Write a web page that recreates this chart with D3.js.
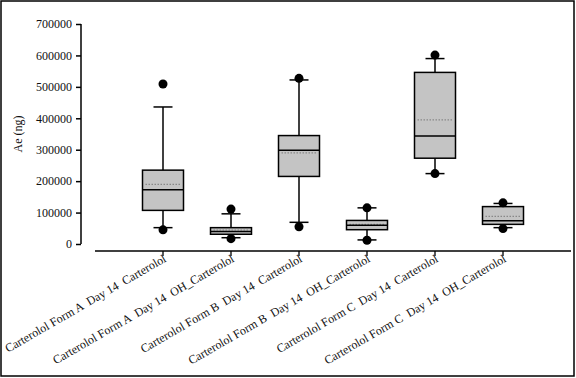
<!DOCTYPE html>
<html lang="en">

<head>
    <meta charset="UTF-8">
    <title>Box plot</title>
    <script src="https://d3js.org/d3.v7.min.js"></script>
    <style>
        body { margin: 0; background: #fff; }
        text { font-family: "Liberation Serif", "Times New Roman", serif; fill: #111; }
    </style>
</head>

<body>
    <div id="chart"></div>
    <script>
        // categories and box stats
        const categories = [
            "Carterolol Form A  Day 14  Carterolol",
            "Carterolol Form A  Day 14  OH_Carterolol",
            "Carterolol Form B  Day 14  Carterolol",
            "Carterolol Form B  Day 14  OH_Carterolol",
            "Carterolol Form C  Day 14  Carterolol",
            "Carterolol Form C  Day 14  OH_Carterolol"
        ];
        const whiskerLow = [52000, 20000, 69000, 13000, 224000, 52000];
        const q1 = [107000, 31000, 215000, 45500, 273000, 62500];
        const median = [173000, 40000, 298000, 59500, 344000, 74000];
        const mean = [190000, 44500, 290000, 62500, 395000, 88000];
        const q3 = [235000, 52000, 345000, 75000, 546000, 119000];
        const whiskerHigh = [436000, 96000, 522000, 115000, 590000, 129000];
        const outlierLow = [45000, 17000, 55000, 12000, 224000, 49000];
        const outlierHigh = [509000, 111000, 527000, 115000, 601000, 131000];
        const yTicks = [0, 100000, 200000, 300000, 400000, 500000, 600000, 700000];

        const W = 576, H = 378;
        const svg = d3.select("#chart").append("svg")
            .attr("width", W)
            .attr("height", H);

        // frame
        svg.append("rect")
            .attr("x", 1).attr("y", 1)
            .attr("width", W - 3).attr("height", H - 3)
            .attr("fill", "none").attr("stroke", "#000").attr("stroke-width", 1.5);

        const y = d3.scaleLinear().domain([0, 700000]).range([244, 24]);
        const x = d3.scaleLinear().domain([0, 7]).range([95, 571]);
        const boxW = 41, capW = 19;

        // y axis
        const yAxis = svg.append("g").attr("transform", "translate(81,0)");
        yAxis.call(d3.axisLeft(y).tickValues(d3.range(0, 700001, 20000)).tickSize(3).tickFormat(""))
            .call(g => g.selectAll("line").attr("stroke-width", 1.2));
        yAxis.call(d3.axisLeft(y).tickValues(yTicks).tickSize(5).tickPadding(4).tickFormat(d3.format("d")))
            .call(g => g.selectAll(".domain").attr("stroke-width", 1.5))
            .call(g => g.selectAll("line").attr("stroke-width", 1.5))
            .call(g => g.selectAll("text").attr("font-size", 12));
        yAxis.selectAll(".domain").attr("d", `M0,${y(0)}V${y(700000)}`);

        svg.append("text")
            .attr("transform", `translate(22,${(y(0) + y(700000)) / 2}) rotate(-90)`)
            .attr("text-anchor", "middle")
            .attr("font-size", 12)
            .text("Ae (ng)");

        // x axis
        const xg = svg.append("g").attr("transform", "translate(0,251)");
        xg.append("line")
            .attr("x1", x(0)).attr("x2", x(7))
            .attr("stroke", "#000").attr("stroke-width", 1.5);
        categories.forEach((c, i) => {
            const cx = x(i + 1);
            xg.append("line")
                .attr("x1", cx).attr("x2", cx).attr("y1", 0).attr("y2", 5)
                .attr("stroke", "#000").attr("stroke-width", 1.3);
            xg.append("text")
                .attr("transform", `translate(${cx + 4},${10}) rotate(-30)`)
                .attr("text-anchor", "end")
                .attr("font-size", 12)
                .style("white-space", "pre")
                .text(c);
        });

        // boxes
        const boxes = svg.append("g");
        categories.forEach((c, i) => {
            const cx = x(i + 1);
            const g = boxes.append("g");
            // whiskers
            g.append("line").attr("x1", cx).attr("x2", cx)
                .attr("y1", y(q3[i])).attr("y2", y(whiskerHigh[i]))
                .attr("stroke", "#000").attr("stroke-width", 1.5);
            g.append("line").attr("x1", cx).attr("x2", cx)
                .attr("y1", y(q1[i])).attr("y2", y(whiskerLow[i]))
                .attr("stroke", "#000").attr("stroke-width", 1.5);
            [whiskerHigh[i], whiskerLow[i]].forEach(v => {
                g.append("line").attr("x1", cx - capW / 2).attr("x2", cx + capW / 2)
                    .attr("y1", y(v)).attr("y2", y(v))
                    .attr("stroke", "#000").attr("stroke-width", 1.5);
            });
            // box
            g.append("rect")
                .attr("x", cx - boxW / 2).attr("y", y(q3[i]))
                .attr("width", boxW).attr("height", y(q1[i]) - y(q3[i]))
                .attr("fill", "#c4c4c4").attr("stroke", "#000").attr("stroke-width", 1.5);
            // mean
            g.append("line").attr("x1", cx - boxW / 2 + 3).attr("x2", cx + boxW / 2 - 3)
                .attr("y1", y(mean[i])).attr("y2", y(mean[i]))
                .attr("stroke", "#888").attr("stroke-width", 1.2)
                .attr("stroke-dasharray", "1.5,1.5");
            // median
            g.append("line").attr("x1", cx - boxW / 2).attr("x2", cx + boxW / 2)
                .attr("y1", y(median[i])).attr("y2", y(median[i]))
                .attr("stroke", "#000").attr("stroke-width", 1.5);
            // outliers
            [outlierHigh[i], outlierLow[i]].forEach(v => {
                g.append("circle").attr("cx", cx).attr("cy", y(v)).attr("r", 4.5)
                    .attr("fill", "#000");
            });
        });
    </script>
</body>

</html>
